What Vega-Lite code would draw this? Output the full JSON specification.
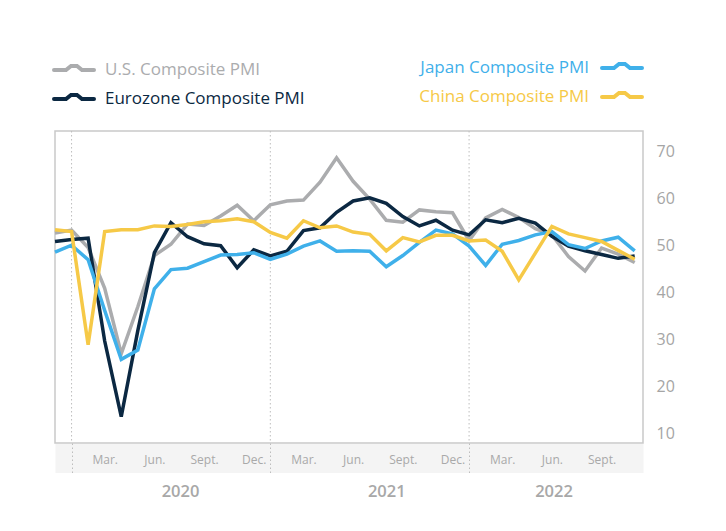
{
  "$schema": "https://vega.github.io/schema/vega-lite/v6.json",
  "width": 588,
  "height": 312,
  "autosize": {"type": "none"},
  "padding": {"left": 55, "top": 131, "right": 83, "bottom": 88},
  "background": "white",
  "config": {
    "font": "Open Sans",
    "view": {"stroke": "#c9c9c9", "strokeWidth": 1.5},
    "axis": {"title": null}
  },
  "datasets": {
    "pmi": [
      {"month": "2019-12", "t": 0, "U.S. Composite PMI": 52.7, "Eurozone Composite PMI": 50.9, "Japan Composite PMI": 48.6, "China Composite PMI": 53.4},
      {"month": "2020-01", "t": 1, "U.S. Composite PMI": 53.3, "Eurozone Composite PMI": 51.3, "Japan Composite PMI": 50.1, "China Composite PMI": 53.0},
      {"month": "2020-02", "t": 2, "U.S. Composite PMI": 49.6, "Eurozone Composite PMI": 51.6, "Japan Composite PMI": 47.0, "China Composite PMI": 28.9},
      {"month": "2020-03", "t": 3, "U.S. Composite PMI": 40.9, "Eurozone Composite PMI": 29.7, "Japan Composite PMI": 36.2, "China Composite PMI": 53.0},
      {"month": "2020-04", "t": 4, "U.S. Composite PMI": 27.0, "Eurozone Composite PMI": 13.6, "Japan Composite PMI": 25.8, "China Composite PMI": 53.4},
      {"month": "2020-05", "t": 5, "U.S. Composite PMI": 37.0, "Eurozone Composite PMI": 31.9, "Japan Composite PMI": 27.8, "China Composite PMI": 53.4},
      {"month": "2020-06", "t": 6, "U.S. Composite PMI": 47.9, "Eurozone Composite PMI": 48.5, "Japan Composite PMI": 40.8, "China Composite PMI": 54.2},
      {"month": "2020-07", "t": 7, "U.S. Composite PMI": 50.3, "Eurozone Composite PMI": 54.9, "Japan Composite PMI": 44.9, "China Composite PMI": 54.1},
      {"month": "2020-08", "t": 8, "U.S. Composite PMI": 54.6, "Eurozone Composite PMI": 51.9, "Japan Composite PMI": 45.2, "China Composite PMI": 54.5},
      {"month": "2020-09", "t": 9, "U.S. Composite PMI": 54.3, "Eurozone Composite PMI": 50.4, "Japan Composite PMI": 46.6, "China Composite PMI": 55.1},
      {"month": "2020-10", "t": 10, "U.S. Composite PMI": 56.3, "Eurozone Composite PMI": 50.0, "Japan Composite PMI": 48.0, "China Composite PMI": 55.3},
      {"month": "2020-11", "t": 11, "U.S. Composite PMI": 58.6, "Eurozone Composite PMI": 45.3, "Japan Composite PMI": 48.1, "China Composite PMI": 55.7},
      {"month": "2020-12", "t": 12, "U.S. Composite PMI": 55.3, "Eurozone Composite PMI": 49.1, "Japan Composite PMI": 48.5, "China Composite PMI": 55.1},
      {"month": "2021-01", "t": 13, "U.S. Composite PMI": 58.7, "Eurozone Composite PMI": 47.8, "Japan Composite PMI": 47.1, "China Composite PMI": 52.8},
      {"month": "2021-02", "t": 14, "U.S. Composite PMI": 59.5, "Eurozone Composite PMI": 48.8, "Japan Composite PMI": 48.2, "China Composite PMI": 51.6},
      {"month": "2021-03", "t": 15, "U.S. Composite PMI": 59.7, "Eurozone Composite PMI": 53.2, "Japan Composite PMI": 49.9, "China Composite PMI": 55.3},
      {"month": "2021-04", "t": 16, "U.S. Composite PMI": 63.5, "Eurozone Composite PMI": 53.8, "Japan Composite PMI": 51.0, "China Composite PMI": 53.8},
      {"month": "2021-05", "t": 17, "U.S. Composite PMI": 68.7, "Eurozone Composite PMI": 57.1, "Japan Composite PMI": 48.8, "China Composite PMI": 54.2},
      {"month": "2021-06", "t": 18, "U.S. Composite PMI": 63.7, "Eurozone Composite PMI": 59.5, "Japan Composite PMI": 48.9, "China Composite PMI": 52.9},
      {"month": "2021-07", "t": 19, "U.S. Composite PMI": 59.9, "Eurozone Composite PMI": 60.2, "Japan Composite PMI": 48.8, "China Composite PMI": 52.4},
      {"month": "2021-08", "t": 20, "U.S. Composite PMI": 55.4, "Eurozone Composite PMI": 59.0, "Japan Composite PMI": 45.5, "China Composite PMI": 48.9},
      {"month": "2021-09", "t": 21, "U.S. Composite PMI": 55.0, "Eurozone Composite PMI": 56.2, "Japan Composite PMI": 47.9, "China Composite PMI": 51.7},
      {"month": "2021-10", "t": 22, "U.S. Composite PMI": 57.6, "Eurozone Composite PMI": 54.2, "Japan Composite PMI": 50.7, "China Composite PMI": 50.8},
      {"month": "2021-11", "t": 23, "U.S. Composite PMI": 57.2, "Eurozone Composite PMI": 55.4, "Japan Composite PMI": 53.3, "China Composite PMI": 52.2},
      {"month": "2021-12", "t": 24, "U.S. Composite PMI": 57.0, "Eurozone Composite PMI": 53.3, "Japan Composite PMI": 52.5, "China Composite PMI": 52.2},
      {"month": "2022-01", "t": 25, "U.S. Composite PMI": 51.1, "Eurozone Composite PMI": 52.3, "Japan Composite PMI": 49.9, "China Composite PMI": 51.0},
      {"month": "2022-02", "t": 26, "U.S. Composite PMI": 55.9, "Eurozone Composite PMI": 55.5, "Japan Composite PMI": 45.8, "China Composite PMI": 51.2},
      {"month": "2022-03", "t": 27, "U.S. Composite PMI": 57.7, "Eurozone Composite PMI": 54.9, "Japan Composite PMI": 50.3, "China Composite PMI": 48.8},
      {"month": "2022-04", "t": 28, "U.S. Composite PMI": 56.0, "Eurozone Composite PMI": 55.8, "Japan Composite PMI": 51.1, "China Composite PMI": 42.7},
      {"month": "2022-05", "t": 29, "U.S. Composite PMI": 53.6, "Eurozone Composite PMI": 54.8, "Japan Composite PMI": 52.3, "China Composite PMI": 48.4},
      {"month": "2022-06", "t": 30, "U.S. Composite PMI": 52.3, "Eurozone Composite PMI": 52.0, "Japan Composite PMI": 53.0, "China Composite PMI": 54.1},
      {"month": "2022-07", "t": 31, "U.S. Composite PMI": 47.7, "Eurozone Composite PMI": 49.9, "Japan Composite PMI": 50.2, "China Composite PMI": 52.5},
      {"month": "2022-08", "t": 32, "U.S. Composite PMI": 44.6, "Eurozone Composite PMI": 48.9, "Japan Composite PMI": 49.4, "China Composite PMI": 51.7},
      {"month": "2022-09", "t": 33, "U.S. Composite PMI": 49.5, "Eurozone Composite PMI": 48.1, "Japan Composite PMI": 51.0, "China Composite PMI": 50.9},
      {"month": "2022-10", "t": 34, "U.S. Composite PMI": 48.2, "Eurozone Composite PMI": 47.3, "Japan Composite PMI": 51.8, "China Composite PMI": 49.0},
      {"month": "2022-11", "t": 35, "U.S. Composite PMI": 46.4, "Eurozone Composite PMI": 47.8, "Japan Composite PMI": 48.9, "China Composite PMI": 47.1}
    ]
  },
  "layer": [
    {
      "data": {"values": [{"t": 1, "year": "2020"}, {"t": 13, "year": "2021"}, {"t": 25, "year": "2022"}]},
      "mark": {"type": "rule", "color": "#bdbdbd", "strokeWidth": 1, "strokeDash": [1.5, 2.5]},
      "encoding": {
        "x": {
          "field": "t",
          "type": "quantitative",
          "scale": {"domain": [0, 35.5], "nice": false, "zero": false},
          "axis": {
            "orient": "bottom",
            "offset": 15,
            "values": [7.55, 20, 30.1],
            "labelExpr": "datum.value < 10 ? '2020' : (datum.value < 25 ? '2021' : '2022')",
            "ticks": false,
            "tickSize": 0,
            "domain": true,
            "domainColor": "#f4f4f4",
            "domainWidth": 29,
            "grid": false,
            "labelPadding": 33,
            "labelBaseline": "middle",
            "labelFontSize": 16.5,
            "labelFontWeight": 600,
            "labelColor": "#a8a8a8",
            "labelFlush": false,
            "labelOverlap": false,
            "labelBound": false,
            "zindex": 0
          }
        }
      }
    },
    {
      "data": {"name": "pmi"},
      "transform": [{"fold": ["U\\.S\\. Composite PMI", "Eurozone Composite PMI"], "as": ["series", "value"]}],
      "mark": {"type": "line", "strokeWidth": 3.5},
      "encoding": {
        "x": {
          "field": "t",
          "type": "quantitative",
          "axis": {
            "orient": "bottom",
            "offset": 15,
            "values": [3, 6, 9, 12, 15, 18, 21, 24, 27, 30, 33],
            "labelExpr": "['Mar.', 'Jun.', 'Sept.', 'Dec.'][(round(datum.value / 3) - 1) % 4]",
            "ticks": false,
            "tickSize": 0,
            "labelPadding": 1,
            "labelBaseline": "middle",
            "labelFontSize": 12,
            "labelColor": "#a9a9a9",
            "domain": false,
            "grid": false,
            "labelFlush": false,
            "labelOverlap": false,
            "zindex": 1
          }
        },
        "y": {
          "field": "value",
          "type": "quantitative",
          "scale": {"domain": [8, 74.4], "nice": false, "zero": false},
          "axis": {
            "orient": "right",
            "values": [10, 20, 30, 40, 50, 60, 70],
            "ticks": false,
            "domain": false,
            "grid": false,
            "labelPadding": 13,
            "labelFontSize": 16,
            "labelColor": "#a5a5a5",
            "labelFlush": false,
            "labelOverlap": false
          }
        },
        "color": {
          "field": "series",
          "type": "nominal",
          "scale": {"domain": ["U.S. Composite PMI", "Eurozone Composite PMI"], "range": ["#abacae", "#0b2842"]},
          "legend": {
            "orient": "none",
            "legendX": -1,
            "legendY": -73,
            "direction": "vertical",
            "title": null,
            "padding": 0,
            "rowPadding": 9,
            "symbolType": "M-2,0H-0.8L-0.3,-0.4H0.3L0.8,0H2",
            "symbolSize": 400,
            "symbolStrokeWidth": 4,
            "symbolFillColor": "transparent",
            "symbolOffset": 8,
            "labelOffset": 19,
            "labelFontSize": 17,
            "labelLimit": 400,
            "encode": {
              "labels": {"update": {"fill": {"signal": "datum.value === 'Eurozone Composite PMI' ? '#0b2842' : '#abacae'"}}},
              "symbols": {"update": {"fill": {"value": "transparent"}, "strokeCap": {"value": "round"}}}
            }
          }
        }
      }
    },
    {
      "data": {"name": "pmi"},
      "transform": [{"fold": ["Japan Composite PMI", "China Composite PMI"], "as": ["series", "value"]}],
      "mark": {"type": "line", "strokeWidth": 3.5},
      "encoding": {
        "x": {
          "field": "t",
          "type": "quantitative",
          "axis": {
            "orient": "bottom",
            "values": [1, 13, 25],
            "labels": false,
            "domain": false,
            "grid": false,
            "ticks": true,
            "tickSize": 30,
            "tickColor": "#bdbdbd",
            "tickWidth": 1,
            "tickDash": [1.5, 2.5],
            "zindex": 1
          }
        },
        "y": {"field": "value", "type": "quantitative"},
        "stroke": {
          "field": "series",
          "type": "nominal",
          "scale": {"domain": ["Japan Composite PMI", "China Composite PMI"], "range": ["#3fb0ea", "#f6c947"]},
          "legend": {
            "orient": "none",
            "legendX": 547,
            "legendY": -75,
            "direction": "vertical",
            "title": null,
            "padding": 0,
            "rowPadding": 9,
            "symbolType": "M-2,0H-0.8L-0.3,-0.4H0.3L0.8,0H2",
            "symbolSize": 400,
            "symbolStrokeWidth": 4,
            "symbolFillColor": "transparent",
            "symbolOffset": 8,
            "labelAlign": "right",
            "labelOffset": -45,
            "labelFontSize": 17,
            "labelLimit": 400,
            "encode": {
              "labels": {"update": {"fill": {"signal": "datum.value === 'China Composite PMI' ? '#f6c947' : '#3fb0ea'"}}},
              "symbols": {"update": {"fill": {"value": "transparent"}, "strokeCap": {"value": "round"}}}
            }
          }
        }
      }
    }
  ],
  "resolve": {"axis": {"x": "independent"}}
}
